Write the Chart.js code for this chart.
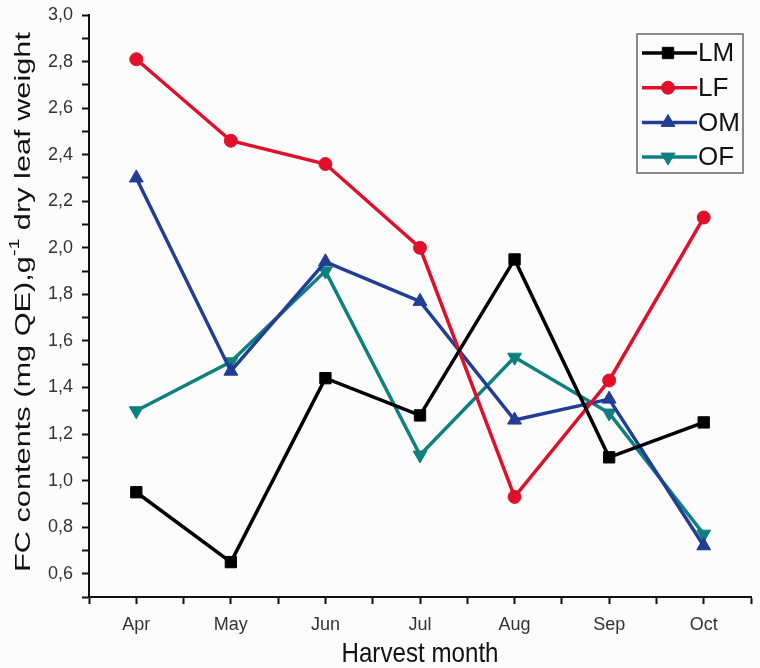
<!DOCTYPE html>
<html>
<head>
<meta charset="utf-8">
<script src="https://cdn.jsdelivr.net/npm/chart.js@4.4.0/dist/chart.umd.min.js"></script>
<style>
  html, body { margin: 0; padding: 0; background: #fdfcfd; }
  #wrap { width: 760px; height: 668px; }
</style>
</head>
<body>
<div id="wrap"><canvas id="fc"></canvas></div>
<script>
const months = ['Apr', 'May', 'Jun', 'Jul', 'Aug', 'Sep', 'Oct'];
const lm = [0.95, 0.65, 1.44, 1.28, 1.95, 1.10, 1.25];
const lf = [2.81, 2.46, 2.36, 2.00, 0.93, 1.43, 2.13];
const om = [2.30, 1.47, 1.94, 1.77, 1.26, 1.35, 0.72];
const of = [1.30, 1.51, 1.90, 1.11, 1.53, 1.29, 0.77];

const yTitle = ['FC contents (mg QE),g', '-1', ' dry leaf weight'];
const xTitle = 'Harvest month';

const FONT = '"Liberation Sans", Arial, sans-serif';
const toXY = (arr) => arr.map((v, i) => ({ x: i, y: v }));

const series = [
    { label: 'LM', data: lm, color: '#000000', style: 'rect', radius: 8, rot: 0 },
    { label: 'LF', data: lf, color: '#e00f2a', style: 'circle', radius: 6.5, rot: 0 },
    { label: 'OM', data: om, color: '#213e94', style: 'triangle', radius: 8, rot: 0 },
    { label: 'OF', data: of, color: '#0f8080', style: 'triangle', radius: 8, rot: 180 },
];

// axis titles drawn by hand (the original text is stretched)
const titles = {
    id: 'titles',
    afterDraw(chart) {
        const c = chart.ctx;
        const area = chart.chartArea;
        c.save();
        c.fillStyle = '#111';
        c.textBaseline = 'alphabetic';

        // y title, rotated
        const big = '22px ' + FONT, small = '14px ' + FONT;
        c.font = big;
        const w1 = c.measureText(yTitle[0]).width;
        const w3 = c.measureText(yTitle[2]).width;
        c.font = small;
        const w2 = c.measureText(yTitle[1]).width;
        const total = w1 + w2 + w3;
        const s = 540 / total;
        c.save();
        c.translate(30, 302);
        c.rotate(-Math.PI / 2);
        c.scale(s, 1);
        c.textAlign = 'left';
        c.font = big;
        c.fillText(yTitle[0], -total / 2, 0);
        c.font = small;
        c.fillText(yTitle[1], -total / 2 + w1, -11);
        c.font = big;
        c.fillText(yTitle[2], -total / 2 + w1 + w2, 0);
        c.restore();

        // x title
        c.save();
        c.translate((area.left + area.right) / 2, 662);
        c.scale(1.05, 1.2);
        c.textAlign = 'center';
        c.font = '23px ' + FONT;
        c.fillText(xTitle, 0, 0);
        c.restore();
        c.restore();
    }
};

// legend box in the top right corner, line with marker in the middle
const boxLegend = {
    id: 'boxLegend',
    afterDraw(chart) {
        const c = chart.ctx;
        c.save();
        c.fillStyle = '#fdfcfd';
        c.fillRect(637, 34, 106, 139);
        c.strokeStyle = '#666';
        c.lineWidth = 1.5;
        c.strokeRect(637, 34, 106, 139);
        chart.data.datasets.forEach((ds, i) => {
            const y = 53 + i * 34.7;
            c.strokeStyle = ds.borderColor;
            c.lineWidth = 3.5;
            c.beginPath();
            c.moveTo(642, y);
            c.lineTo(697, y);
            c.stroke();
            c.fillStyle = ds.borderColor;
            c.strokeStyle = ds.borderColor;
            c.lineWidth = 1;
            Chart.helpers.drawPoint(c, {
                pointStyle: ds.pointStyle,
                rotation: ds.pointRotation,
                radius: ds.pointRadius,
                borderWidth: 1
            }, 668, y);
            c.fillStyle = '#111';
            c.font = '26px ' + FONT;
            c.textBaseline = 'middle';
            c.textAlign = 'left';
            c.fillText(ds.label, 698, y + 1);
        });
        c.restore();
    }
};

const ctx = document.getElementById('fc').getContext('2d');
const chart = new Chart(ctx, {
    type: 'line',
    data: {
        datasets: series.map(s => ({
            label: s.label,
            data: toXY(s.data),
            borderColor: s.color,
            backgroundColor: s.color,
            borderWidth: 3.5,
            pointStyle: s.style,
            pointRadius: s.radius,
            pointRotation: s.rot,
            pointBorderWidth: 1,
            tension: 0,
        }))
    },
    options: {
        responsive: true,
        maintainAspectRatio: false,
        animation: false,
        layout: {
            padding: { top: 15, right: 5, left: 0, bottom: 0 }
        },
        plugins: {
            legend: { display: false },
            tooltip: { enabled: false },
        },
        scales: {
            x: {
                type: 'linear',
                min: -0.5,
                max: 6.5,
                afterBuildTicks: (scale) => {
                    let t = [];
                    for (let v = -0.5; v <= 6.5; v += 0.5) t.push({ value: v });
                    scale.ticks = t;
                },
                afterFit: (scale) => {
                    scale.height = 71;
                    scale.paddingLeft = 0;
                    scale.paddingRight = 0;
                },
                ticks: {
                    autoSkip: false,
                    maxRotation: 0,
                    color: '#333',
                    font: { family: FONT, size: 18 },
                    padding: 10,
                    callback: (v) => Number.isInteger(v) && v >= 0 ? months[v] : ''
                },
                grid: {
                    drawOnChartArea: false,
                    drawTicks: true,
                    tickLength: 7,
                    tickColor: '#111',
                    tickWidth: 2,
                },
                border: { color: '#111', width: 2 },
            },
            y: {
                min: 0.5,
                max: 3.0,
                afterBuildTicks: (scale) => {
                    let t = [];
                    for (let i = 5; i <= 30; i++) t.push({ value: i / 10 });
                    scale.ticks = t;
                },
                afterFit: (scale) => {
                    scale.width = 89;
                    scale.paddingTop = 0;
                    scale.paddingBottom = 0;
                },
                ticks: {
                    autoSkip: false,
                    color: '#333',
                    font: { family: FONT, size: 18 },
                    padding: 9,
                    callback: (v) => {
                        let k = Math.round(v * 10);
                        if (k % 2 !== 0) return '';
                        return (k / 10).toFixed(1).replace('.', ',');
                    }
                },
                grid: {
                    drawOnChartArea: false,
                    drawTicks: true,
                    tickLength: 7,
                    tickColor: '#111',
                    tickWidth: 2,
                },
                border: { color: '#111', width: 2 },
            }
        }
    },
    plugins: [titles, boxLegend]
});
</script>
</body>
</html>
